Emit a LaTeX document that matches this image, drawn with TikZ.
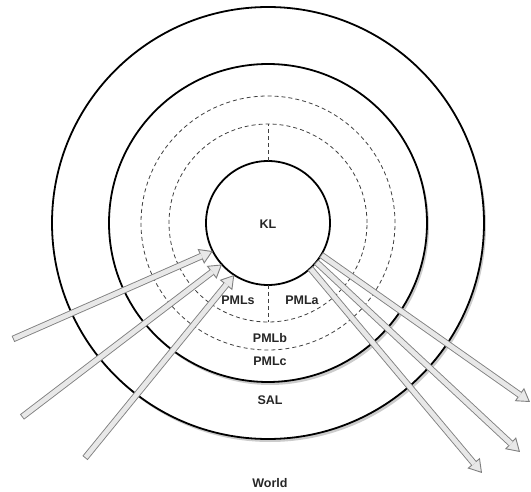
\documentclass[tikz,border=0pt]{standalone}
\usepackage{fontspec}
\setmainfont{Liberation Sans}
\usetikzlibrary{arrows.meta,shadows}

\begin{document}
\begin{tikzpicture}
    [x=1pt,y=-1pt,
     layer/.style={circle,draw=black,line width=1.8pt,inner sep=0pt,outer sep=0pt,fill=white,
       drop shadow={opacity=.4,shadow xshift=2pt,shadow yshift=-3pt}},
     sublayer/.style={circle,draw=black!75,line width=.8pt,dash pattern=on 4pt off 3pt,inner sep=0pt,outer sep=0pt},
     lbl/.style={font=\bfseries\fontsize{12.5}{14}\selectfont,text=black!85},
     hollow/.style={line width=6.6pt,draw=black!50,
       -{Triangle[length=13pt,width=16pt,line width=.9pt,fill=gray!18]},
       postaction={draw=gray!18,line width=4.8pt,shorten >=12pt,shorten <=.9pt,-}}]
    \useasboundingbox (0,0) rectangle (531,492);
    % the layers
    \node[layer,minimum size=432pt] (sal) at (268,223) {};
    \node[layer,minimum size=318pt] (pmlc) at (268,223) {};
    \node[sublayer,minimum size=254pt] (pmlb) at (268,223) {};
    \node[sublayer,minimum size=198pt] (pmlsa) at (268,223) {};
    \node[circle,draw=black,line width=1.8pt,fill=white,inner sep=0pt,outer sep=0pt,minimum size=124pt] (kl) at (268,223) {};
    \draw[black!75,line width=.8pt,dash pattern=on 4pt off 3pt] (kl.north) -- (pmlsa.north);
    \draw[black!75,line width=.8pt,dash pattern=on 4pt off 3pt] (kl.south) -- (pmlsa.south);
    % labels
    \node[lbl] (kltext) at (268,224) {KL};
    \node[lbl] (pmls) at (238,300) {PMLs};
    \node[lbl] (pmla) at (302,300) {PMLa};
    \node[lbl] (pmlbtext) at (270,338) {PMLb};
    \node[lbl] (pmlctext) at (270,361) {PMLc};
    \node[lbl] (saltext) at (270,400) {SAL};
    \node[lbl] (world) at (270,483) {World};
    % sensing
    \coordinate (in1) at (13,339);
    \coordinate (in2) at (22,417);
    \coordinate (in3) at (85,458);
    \draw[hollow] (in1) -- (kl.207);
    \draw[hollow] (in2) -- (kl.222);
    \draw[hollow] (in3) -- (kl.237);
    % acting
    \coordinate (out1) at (530,402);
    \coordinate (out2) at (520,452);
    \coordinate (out3) at (482,473);
    \draw[hollow] (kl.-31) -- (out1);
    \draw[hollow] (kl.-39) -- (out2);
    \draw[hollow] (kl.-47) -- (out3);
\end{tikzpicture}
\end{document}
